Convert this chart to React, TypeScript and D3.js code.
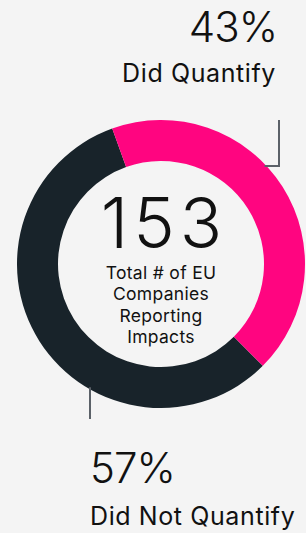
import React from 'react';
import * as d3 from 'd3';

// data
const categories = ['Did Not Quantify', 'Did Quantify'];
const values = [57, 43];
const colors = ['#18232a', '#ff0580'];
const totalValue = 153;
const totalLabel = ['Total # of EU', 'Companies', 'Reporting', 'Impacts'];

const W = 306;
const H = 533;
const cx = 161;
const cy = 264;
const outerR = 144;
const innerR = 103;
const font = 'Inter, "DejaVu Sans", sans-serif';

const App = () => {
  const pie = d3.pie<number>()
    .sort(null)
    .startAngle(Math.PI * 0.75)
    .endAngle(Math.PI * 0.75 + Math.PI * 2);
  const arcs = pie(values);
  const arc = d3.arc<d3.PieArcDatum<number>>()
    .innerRadius(innerR)
    .outerRadius(outerR);

  const total = d3.sum(values);
  const pct = values.map(v => d3.format('.0%')(v / total));

  // connector anchors
  const rightX = 279;
  const leftX = 90;
  const yTop = cy - outerR;
  const elbowY = 166;
  const elbowX = cx + Math.sqrt(outerR * outerR - (cy - elbowY) ** 2) - 2;
  const yBotStart = cy + Math.sqrt(outerR * outerR - (leftX - cx) ** 2);

  return (
    <div style={{ position: 'fixed', left: 0, top: 0, width: W, height: H, background: '#f4f4f4' }}>
      <svg width={W} height={H} style={{ display: 'block' }}>
        <g transform={`translate(${cx},${cy})`}>
          {arcs.map((a, i) => (
            <path key={categories[i]} d={arc(a) || ''} fill={colors[i]} />
          ))}
        </g>

        {/* connectors */}
        <path
          d={`M${rightX},${yTop}V${elbowY}H${elbowX}`}
          fill="none" stroke="#5b6168" strokeWidth={2}
        />
        <path
          d={`M${leftX},${yBotStart - 2}V${419}`}
          fill="none" stroke="#5b6168" strokeWidth={2}
        />

        {/* center */}
        <text x={cx + 3} y={248} textAnchor="middle" fontFamily={font} fontWeight={300} fontSize={70} letterSpacing={5} fill="#111">
          {totalValue}
        </text>
        {totalLabel.map((t, i) => (
          <text key={t} x={cx} y={279 + i * 21.4} textAnchor="middle" fontFamily={font} fontSize={17.5} letterSpacing={0.3} fill="#111">
            {t}
          </text>
        ))}

        {/* top label */}
        <text x={277} y={42} textAnchor="end" fontFamily={font} fontWeight={300} fontSize={42} letterSpacing={-1} fill="#111">
          {pct[1]}
        </text>
        <text x={276} y={82} textAnchor="end" fontFamily={font} fontSize={25} letterSpacing={0.6} fill="#111">
          {categories[1]}
        </text>

        {/* bottom label */}
        <text x={90} y={483} textAnchor="start" fontFamily={font} fontWeight={300} fontSize={42} letterSpacing={-1} fill="#111">
          {pct[0]}
        </text>
        <text x={90} y={525} textAnchor="start" fontFamily={font} fontSize={25} letterSpacing={0.6} fill="#111">
          {categories[0]}
        </text>
      </svg>
    </div>
  );
};

export default App;
